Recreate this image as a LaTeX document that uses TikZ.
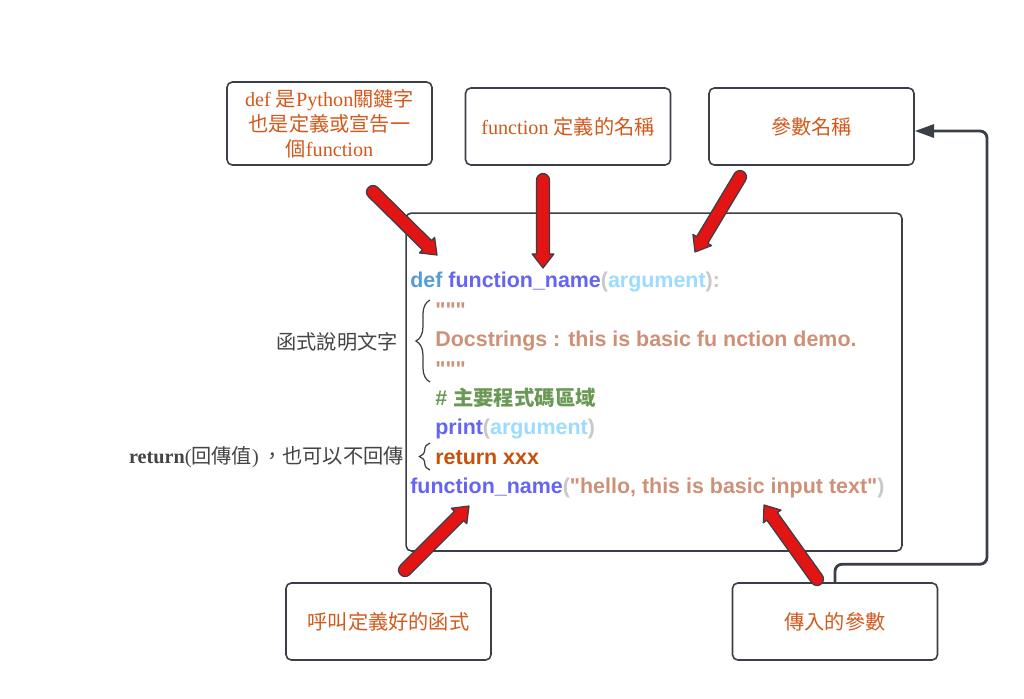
\documentclass[tikz,border=0pt]{standalone}
\usepackage{fontspec}
\setmainfont{Liberation Serif}
\newfontfamily\codefont{Liberation Sans}
\newfontfamily\cjk{Noto Sans CJK TC}
\usetikzlibrary{calc,arrows.meta,decorations.pathreplacing}
\definecolor{vizBorder}{HTML}{3A3F47}
\definecolor{vizLabel}{HTML}{D2591C}
\definecolor{vizNote}{HTML}{444444}
\definecolor{vizRed}{HTML}{E31414}
\definecolor{vizKeyword}{HTML}{569CD6}
\definecolor{vizFunc}{HTML}{6464F5}
\definecolor{vizArg}{HTML}{9CDCFE}
\definecolor{vizPunct}{HTML}{C8C8C8}
\definecolor{vizString}{HTML}{CE9178}
\definecolor{vizComment}{HTML}{6A9955}
\definecolor{vizReturn}{HTML}{C8500A}

\newcommand{\fatArrow}[2]{%
  \coordinate (#1h) at ($(#2)!8pt!(#1)$);
  \filldraw[fill=vizRed, draw=vizBorder, line width=0.7pt, line join=round]
    let \p1 = ($(#2)-(#1)$), \n1 = {atan2(\y1,\x1)} in
    ($(#1)!3.7pt!90:(#2)$) -- ($(#1h)!3.7pt!90:(#2)$) -- ($(#1h)!6.2pt!90:(#2)$) -- (#2)
    -- ($(#1h)!6.2pt!-90:(#2)$) -- ($(#1h)!3.7pt!-90:(#2)$) -- ($(#1)!3.7pt!-90:(#2)$)
    arc[start angle=\n1-90, delta angle=-180, radius=3.7pt] -- cycle;
}

\begin{document}
\begin{tikzpicture}[x=0.02cm, y=-0.02cm,
  box/.style={draw=vizBorder, line width=0.9pt, rounded corners=3pt, fill=white, text=vizLabel,
    font=\fontsize{11.5}{14.2}\selectfont, align=center, minimum width=4.1cm, minimum height=1.54cm},
  code/.style={anchor=base west, inner sep=0pt, font=\codefont\bfseries\fontsize{12.2}{14}\selectfont},
  note/.style={anchor=east, inner sep=0pt, text=vizNote, font=\fontsize{11.5}{14}\selectfont},
  curly/.style={draw=vizBorder, line width=0.7pt, decorate, decoration={brace, amplitude=8pt}},
  link/.style={draw=vizBorder, line width=1.6pt, rounded corners=4pt, -{Triangle[length=11pt, width=7.5pt]}}]
  \fill[white] (0,0) rectangle (1024,698);
  \useasboundingbox (0,0) rectangle (1024,698);

  \node[box, minimum height=1.66cm] (keyword) at (329.5,123.5) {def {\cjk 是}Python{\cjk 關鍵字}\\{\cjk 也是定義或宣告一}\\{\cjk 個}function};
  \node[box] (funcName) at (568,126.5) {function {\cjk 定義的名稱}};
  \node[box] (paramName) at (811.5,126.5) {\cjk 參數名稱};
  \node[box] (callFunc) at (388.5,621.5) {\cjk 呼叫定義好的函式};
  \node[box] (inputArg) at (835,621.5) {\cjk 傳入的參數};
  \node[draw=vizBorder, line width=0.9pt, rounded corners=3pt, minimum width=9.92cm, minimum height=6.76cm] (codeBox) at (654,382) {};

  \node[code] (line1) at (410,287) {\color{vizKeyword}def \color{vizFunc}function\_name\color{vizPunct}(\color{vizArg}argument\color{vizPunct}):};
  \node[code, text=vizString] (line2) at (435,317) {"""};
  \node[code, text=vizString] (line3) at (435,346) {Docstrings : this is basic fu nction demo.};
  \node[code, text=vizString] (line4) at (435,376) {"""};
  \node[code, text=vizComment] (line5) at (435,405) {\# {\cjk\bfseries\fontsize{11.6}{14}\selectfont 主要程式碼區域}};
  \node[code] (line6) at (435,434) {\color{vizFunc}print\color{vizPunct}(\color{vizArg}argument\color{vizPunct})};
  \node[code, text=vizReturn] (line7) at (435,464) {return xxx};
  \node[code] (line8) at (410,493) {\color{vizFunc}function\_name\color{vizPunct}(\color{vizString}"hello, this is basic input text"\color{vizPunct})};

  \coordinate (docTop) at (430,300);
  \coordinate (docBottom) at (430,382);
  \coordinate (retTop) at (430,443);
  \coordinate (retBottom) at (430,470);
  \draw[curly] (docBottom) -- (docTop);
  \draw[curly, decoration={amplitude=6pt}] (retBottom) -- (retTop);
  \node[note, font=\cjk\fontsize{11.5}{14}\selectfont] (docNote) at (398,342) {函式說明文字};
  \node[note] (retNote) at (404,457) {\textbf{return}({\cjk 回傳值})\,{\cjk ，也可以不回傳}};

  \coordinate (defTail) at (373,192);
  \coordinate (defTip) at (437,255);
  \coordinate (nameTail) at (543,180);
  \coordinate (nameTip) at (543,268);
  \coordinate (argTail) at (740,177);
  \coordinate (argTip) at (695,252);
  \coordinate (callTail) at (405,570);
  \coordinate (callTip) at (469,506);
  \coordinate (inputTail) at (817,579);
  \coordinate (inputTip) at (764,505);
  \fatArrow{defTail}{defTip}
  \fatArrow{nameTail}{nameTip}
  \fatArrow{argTail}{argTip}
  \fatArrow{callTail}{callTip}
  \fatArrow{inputTail}{inputTip}

  \coordinate (paramTurn) at (987,131);
  \draw[link] (inputArg.north) -- ++(0,-18) -| (paramTurn) -- (paramName.east |- paramTurn);
\end{tikzpicture}
\end{document}
